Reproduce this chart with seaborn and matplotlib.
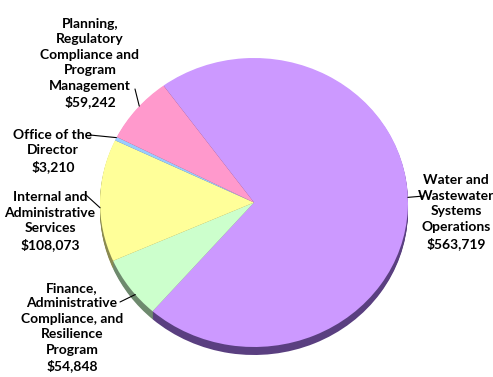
import matplotlib
matplotlib.use("Agg")
import matplotlib.pyplot as plt
import seaborn as sns
import numpy as np

sns.set_theme(style="white")
plt.rcParams['font.family'] = ['Lato', 'DejaVu Sans']

categories = ["Water and\nWastewater\nSystems\nOperations",
              "Finance,\nAdministrative\nCompliance, and\nResilience\nProgram",
              "Internal and\nAdministrative\nServices",
              "Office of the\nDirector",
              "Planning,\nRegulatory\nCompliance and\nProgram\nManagement"]
values = [563719, 54848, 108073, 3210, 59242]
value_labels = ["$563,719", "$54,848", "$108,073", "$3,210", "$59,242"]
colors = ["#CC99FF", "#CCFFCC", "#FFFF99", "#99CCFF", "#FF99CC"]
side_colors = ["#5A3F80", "#6E8A6E", "#8A8A50", "#506E8A", "#8A5070"]

W, H = 493, 377
fig = plt.figure(figsize=(W / 100, H / 100), dpi=100)
cx, cy, rx, ry = 254, 377 - 202.5, 154, 144.5
pad = 12
ax = fig.add_axes([(cx - rx) / W, (cy - ry - pad) / H, 2 * rx / W, (2 * ry + pad) / H])

depth = 8 / ry
for off in np.linspace(-depth, 0, 9)[:-1]:
    ax.pie(values, colors=side_colors, startangle=126, counterclock=False,
           center=(0, off), radius=1, wedgeprops=dict(linewidth=0))
wedges, _ = ax.pie(values, colors=colors, startangle=126, counterclock=False,
                   center=(0, 0), radius=1, wedgeprops=dict(linewidth=0))
ax.set_aspect('auto')
ax.set_xlim(-1, 1)
ax.set_ylim(-1 - 2 * pad / (2 * ry), 1)
ax.axis('off')

# label centres (figure pixels, top-origin) and leader start points
text_pos = [(456, 212), (72, 327), (50, 221), (53, 151), (90, 63)]
line_start = [(424, 196), (120, 302), (86, 195), (90, 135), (135, 89)]
edge_frac = [0.518, 0.63, 0.56, 0.2, 0.45]

for w, cat, val, tp, ls, fr in zip(wedges, categories, value_labels, text_pos, line_start, edge_frac):
    t1, t2 = w.theta1, w.theta2
    ang = np.deg2rad(t1 + (t2 - t1) * fr)
    ex, ey = np.cos(ang), np.sin(ang)
    fig.text(tp[0] / W, 1 - tp[1] / H, cat + "\n" + val, ha='center', va='center',
             fontsize=10, fontweight='bold', color='black', linespacing=1.35)
    ax.annotate('', xy=(ex, ey), xycoords='data',
                xytext=(ls[0], H - ls[1]), textcoords='figure pixels',
                arrowprops=dict(arrowstyle='-', lw=0.8, color='black',
                                shrinkA=0, shrinkB=0))

fig.savefig("out.png", dpi=100)
